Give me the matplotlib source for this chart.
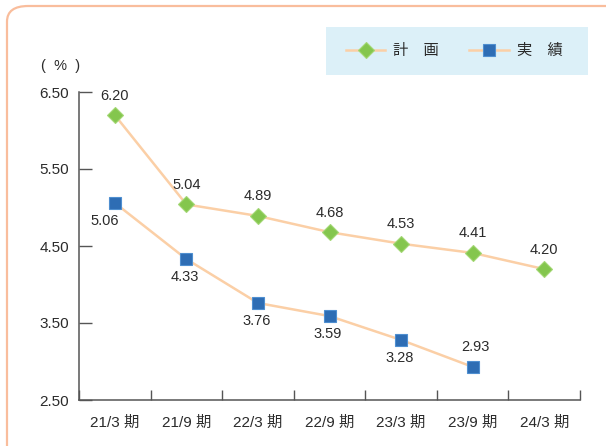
import matplotlib
matplotlib.use("Agg")
import matplotlib.pyplot as plt
from matplotlib.patches import FancyBboxPatch, Rectangle
import numpy as np

plt.rcParams["font.family"] = ["Liberation Sans", "Noto Sans CJK JP", "DejaVu Sans"]

periods = ["21/3 期", "21/9 期", "22/3 期", "22/9 期", "23/3 期", "23/9 期", "24/3 期"]
plan = [6.20, 5.04, 4.89, 4.68, 4.53, 4.41, 4.20]
actual = [5.06, 4.33, 3.76, 3.59, 3.28, 2.93]
yticks = [2.5, 3.5, 4.5, 5.5, 6.5]

line_color = "#fbcfa6"
plan_color = "#84c64e"
actual_color = "#2e6db4"
text_color = "#2b2b2b"
axis_color = "#555555"

fig = plt.figure(figsize=(6.06, 4.46), dpi=100)

# rounded outer frame (runs off the right/bottom edge)
frame = FancyBboxPatch((7 / 606, -0.2), 1.2, 1.2 - 6 / 446,
                       boxstyle="round,pad=0,rounding_size=0.035",
                       transform=fig.transFigure, fill=False,
                       edgecolor="#f9bd9c", linewidth=1.6, zorder=0)
fig.patches.append(frame)

# legend background
fig.patches.append(Rectangle((326 / 606, 1 - 75 / 446), 262 / 606, 48 / 446,
                             transform=fig.transFigure, facecolor="#dcf0f8",
                             edgecolor="none", zorder=0))

ax = fig.add_axes([79 / 606, 1 - 400 / 446, (580 - 79) / 606, (400 - 92) / 446])

x_plan = np.arange(len(plan))
x_act = np.arange(len(actual))

ax.plot(x_plan, plan, color=line_color, lw=1.8, zorder=2,
        marker="D", ms=8, mfc=plan_color, mec="#a3d774", mew=0.8,
        label="計　画")
ax.plot(x_act, actual, color=line_color, lw=1.8, zorder=2,
        marker="s", ms=9, mfc=actual_color, mec="#4f8fd0", mew=0.8,
        label="実　績")

for xi, v in zip(x_plan, plan):
    ax.annotate(f"{v:.2f}", (xi, v), xytext=(0, 9), textcoords="offset points",
                ha="center", va="bottom", fontsize=10.5, color=text_color)
for i, (xi, v) in enumerate(zip(x_act, actual)):
    if i == len(actual) - 1:
        ax.annotate(f"{v:.2f}", (xi, v), xytext=(2, 9), textcoords="offset points",
                    ha="center", va="bottom", fontsize=10.5, color=text_color)
    else:
        dx = -7 if i == 0 else -1
        ax.annotate(f"{v:.2f}", (xi, v), xytext=(dx, -8), textcoords="offset points",
                    ha="center", va="top", fontsize=10.5, color=text_color)

ax.set_xlim(-0.5, len(periods) - 0.5)
ax.set_ylim(2.5, 6.5)

ax.set_xticks(np.arange(len(periods) + 1) - 0.5)
ax.set_xticklabels([])
ax.set_xticks(np.arange(len(periods)), minor=True)
ax.set_xticklabels(periods, minor=True)
ax.tick_params(axis="x", which="major", direction="in", length=7,
               width=1, color=axis_color)
ax.tick_params(axis="x", which="minor", length=0, pad=11,
               labelsize=11, labelcolor=text_color)

ax.set_yticks(yticks)
ax.set_yticklabels([f"{t:.2f}" for t in yticks])
ax.tick_params(axis="y", direction="in", length=9, width=1, color=axis_color,
               pad=7, labelsize=11, labelcolor=text_color)

for side in ["top", "right"]:
    ax.spines[side].set_visible(False)
for side in ["left", "bottom"]:
    ax.spines[side].set_color(axis_color)
    ax.spines[side].set_linewidth(1.1)
ax.patch.set_alpha(0)

fig.text(61 / 606, 1 - 66 / 446, "(  %  )", ha="center", va="center",
         fontsize=10.5, color=text_color)

leg = fig.legend(loc="center left", bbox_to_anchor=(338 / 606, 1 - 51 / 446),
                 ncol=2, frameon=False, fontsize=11, borderpad=0,
                 handlelength=2.6, handletextpad=0.5, columnspacing=2.0,
                 markerscale=1.0)
for t in leg.get_texts():
    t.set_color(text_color)

fig.savefig("out.png", dpi=100)
